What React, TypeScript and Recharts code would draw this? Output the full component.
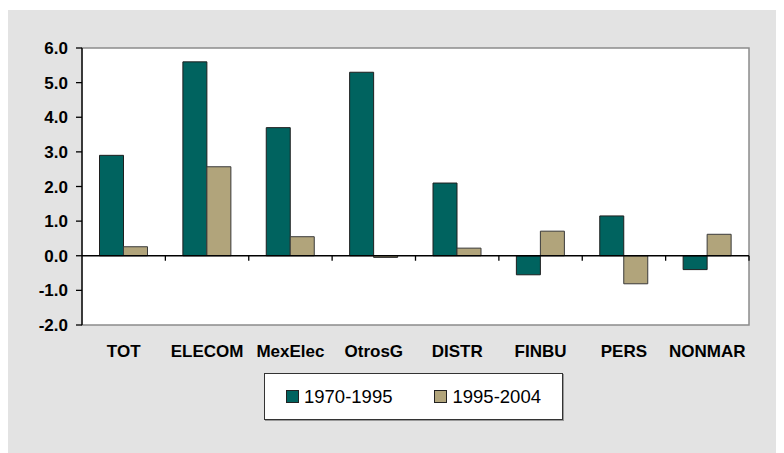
import React from "react";
import {
  BarChart,
  Bar,
  XAxis,
  YAxis,
  ReferenceLine,
  ReferenceArea,
  Legend,
} from "recharts";

const categories = ["TOT", "ELECOM", "MexElec", "OtrosG", "DISTR", "FINBU", "PERS", "NONMAR"];
const series1970 = [2.9, 5.6, 3.7, 5.3, 2.1, -0.55, 1.15, -0.4];
const series1995 = [0.26, 2.57, 0.55, -0.05, 0.22, 0.71, -0.81, 0.62];
const yTicks = [-2, -1, 0, 1, 2, 3, 4, 5, 6];
const seriesNames = ["1970-1995", "1995-2004"];
const seriesColors = ["#00635f", "#b1a47b"];

const data = categories.map((c, i) => ({
  name: c,
  a: series1970[i],
  b: series1995[i],
}));

const FONT = "'Liberation Sans', Arial, Helvetica, sans-serif";

const ZeroLine = (props: any) => {
  const { x1, x2, y1 } = props;
  const n = categories.length;
  const step = (x2 - x1) / n;
  const ticks = [];
  for (let i = 1; i <= n; i++) {
    const x = x1 + i * step;
    ticks.push(<line key={i} x1={x} x2={x} y1={y1} y2={y1 + 5} stroke="#000" strokeWidth={1.3} />);
  }
  return (
    <g>
      <line x1={x1} x2={x2} y1={y1} y2={y1} stroke="#000" strokeWidth={1.3} />
      {ticks}
    </g>
  );
};

const LegendBox = (props: any) => {
  const payload = props.payload || [];
  return (
    <div
      style={{
        width: 297,
        height: 45,
        border: "1px solid #333",
        background: "#fff",
        display: "flex",
        alignItems: "center",
        fontFamily: FONT,
        fontSize: 18.5,
        color: "#000",
        boxShadow: "1px 1px 0 #999",
      }}
    >
      {payload.map((p: any, i: number) => (
        <div
          key={i}
          style={{ display: "flex", alignItems: "center", marginLeft: i === 0 ? 21 : 42 }}
        >
          <span
            style={{
              display: "inline-block",
              width: 11,
              height: 11,
              background: p.color,
              border: "1px solid #222",
              marginRight: 5,
            }}
          />
          <span>{p.value}</span>
        </div>
      ))}
    </div>
  );
};

export default function App() {
  return (
    <div style={{ width: 776, height: 443, marginTop: 2, background: "#e3e3e3" }}>
      <BarChart
        width={776}
        height={443}
        data={data}
        margin={{ top: 38, right: 35, bottom: 51, left: 0 }}
        barCategoryGap="21%"
        barGap={0}
      >
        <ReferenceArea
          y1={-2}
          y2={6}
          fill="#ffffff"
          fillOpacity={1}
          stroke="#8c8c8c"
          strokeWidth={1.5}
          ifOverflow="visible"
        />
        <XAxis
          dataKey="name"
          axisLine={false}
          tickLine={false}
          tickSize={0}
          tickMargin={20}
          height={30}
          interval={0}
          tick={{ fill: "#000", fontSize: 17, fontWeight: 700, fontFamily: FONT }}
        />
        <YAxis
          domain={[-2, 6]}
          ticks={yTicks}
          width={74}
          tickFormatter={(v: number) => v.toFixed(1)}
          axisLine={{ stroke: "#000", strokeWidth: 1.3 }}
          tickLine={{ stroke: "#000", strokeWidth: 1.3 }}
          tickSize={6}
          tickMargin={8}
          interval={0}
          tick={{ fill: "#000", fontSize: 17, fontWeight: 700, fontFamily: FONT }}
        />
        <Bar
          dataKey="a"
          name={seriesNames[0]}
          fill={seriesColors[0]}
          stroke="#1f1f1f"
          strokeWidth={1}
          isAnimationActive={false}
        />
        <Bar
          dataKey="b"
          name={seriesNames[1]}
          fill={seriesColors[1]}
          stroke="#3a3a3a"
          strokeWidth={1}
          isAnimationActive={false}
        />
        <ReferenceLine y={0} shape={<ZeroLine />} />
        <Legend
          content={<LegendBox />}
          wrapperStyle={{ position: "absolute", left: 256, top: 363, width: 299, height: 47 }}
        />
      </BarChart>
    </div>
  );
}
